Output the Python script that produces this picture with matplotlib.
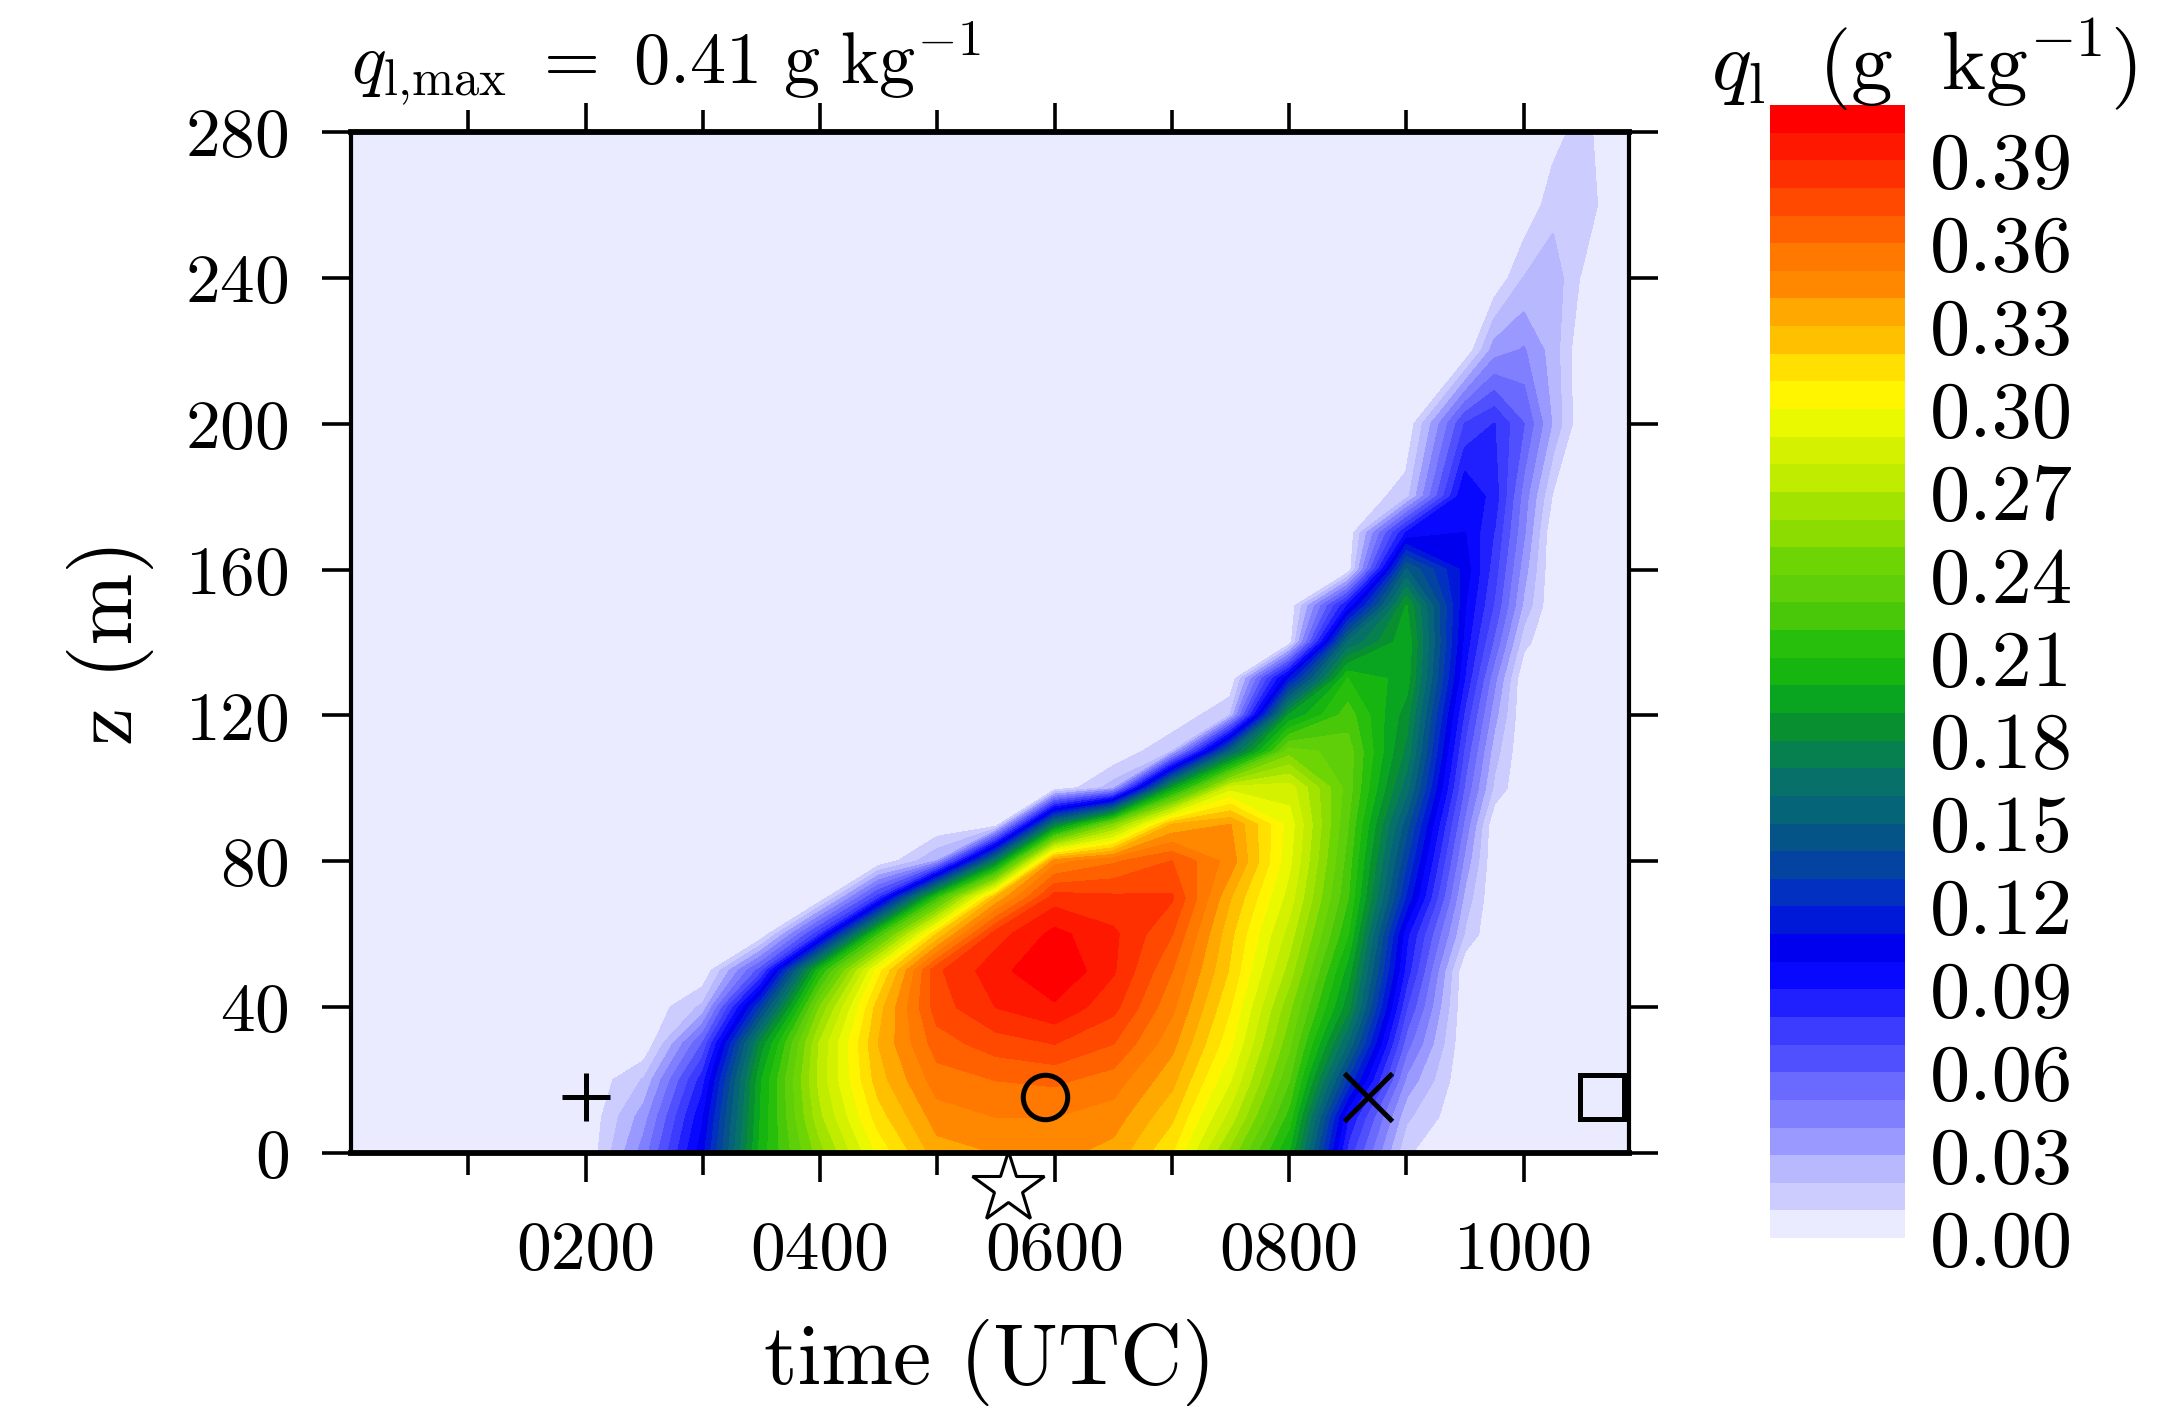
import numpy as np
import matplotlib
matplotlib.use("Agg")
import matplotlib.pyplot as plt

plt.rcParams['font.family'] = 'cmr10'
plt.rcParams['mathtext.fontset'] = 'cm'
plt.rcParams['axes.unicode_minus'] = False
plt.rcParams['axes.formatter.use_mathtext'] = True

# grid of the liquid water table: time (h UTC) and height (m)
times = [0.0, 2.0, 2.5, 3.0, 3.5, 4.0, 4.5, 5.0, 5.5, 6.0, 6.5, 7.0, 7.5,
         8.0, 8.5, 9.0, 9.5, 9.75, 10.0, 10.25, 10.5, 10.75, 10.9]
heights = [0, 10, 20, 30, 40, 50, 60, 70, 80, 90, 100, 110, 120, 130, 140,
           150, 160, 170, 180, 200, 220, 240, 260, 280]

# q_l profiles (g/kg), one per time, bottom to top in the order of heights
ql_0000 = [0, 0, 0, 0, 0, 0, 0, 0, 0, 0, 0, 0, 0, 0, 0, 0, 0, 0, 0, 0, 0, 0, 0, 0]
ql_0200 = [0, 0, 0, 0, 0, 0, 0, 0, 0, 0, 0, 0, 0, 0, 0, 0, 0, 0, 0, 0, 0, 0, 0, 0]
ql_0230 = [0.045, 0.035, 0.021, 0, 0, 0, 0, 0, 0, 0, 0, 0,
           0, 0, 0, 0, 0, 0, 0, 0, 0, 0, 0, 0]
ql_0300 = [0.106, 0.098, 0.085, 0.060, 0.022, 0, 0, 0, 0, 0, 0, 0,
           0, 0, 0, 0, 0, 0, 0, 0, 0, 0, 0, 0]
ql_0330 = [0.204, 0.201, 0.199, 0.183, 0.131, 0.065, 0, 0, 0, 0, 0, 0,
           0, 0, 0, 0, 0, 0, 0, 0, 0, 0, 0, 0]
ql_0400 = [0.255, 0.267, 0.273, 0.271, 0.250, 0.208, 0.077, 0, 0, 0, 0, 0,
           0, 0, 0, 0, 0, 0, 0, 0, 0, 0, 0, 0]
ql_0430 = [0.302, 0.315, 0.325, 0.330, 0.325, 0.305, 0.218, 0.075, 0, 0, 0, 0,
           0, 0, 0, 0, 0, 0, 0, 0, 0, 0, 0, 0]
ql_0500 = [0.335, 0.345, 0.355, 0.365, 0.375, 0.378, 0.320, 0.215, 0.030, 0, 0, 0,
           0, 0, 0, 0, 0, 0, 0, 0, 0, 0, 0, 0]
ql_0530 = [0.340, 0.350, 0.360, 0.375, 0.390, 0.396, 0.385, 0.330, 0.170, 0, 0, 0,
           0, 0, 0, 0, 0, 0, 0, 0, 0, 0, 0, 0]
ql_0600 = [0.343, 0.350, 0.362, 0.380, 0.398, 0.410, 0.403, 0.385, 0.345, 0.170, 0, 0,
           0, 0, 0, 0, 0, 0, 0, 0, 0, 0, 0, 0]
ql_0630 = [0.336, 0.345, 0.355, 0.370, 0.383, 0.391, 0.392, 0.382, 0.358, 0.250, 0.025, 0,
           0, 0, 0, 0, 0, 0, 0, 0, 0, 0, 0, 0]
ql_0700 = [0.310, 0.322, 0.333, 0.343, 0.352, 0.360, 0.370, 0.381, 0.370, 0.330, 0.190, 0.020,
           0, 0, 0, 0, 0, 0, 0, 0, 0, 0, 0, 0]
ql_0730 = [0.255, 0.275, 0.290, 0.302, 0.310, 0.318, 0.322, 0.330, 0.345, 0.340, 0.285, 0.155,
           0.020, 0, 0, 0, 0, 0, 0, 0, 0, 0, 0, 0]
ql_0800 = [0.198, 0.215, 0.230, 0.242, 0.252, 0.265, 0.275, 0.285, 0.292, 0.295, 0.285, 0.245,
           0.190, 0.110, 0.002, 0, 0, 0, 0, 0, 0, 0, 0, 0]
ql_0830 = [0.075, 0.090, 0.127, 0.158, 0.183, 0.195, 0.210, 0.220, 0.225, 0.230, 0.235, 0.235,
           0.225, 0.210, 0.160, 0.090, 0, 0, 0, 0, 0, 0, 0, 0]
ql_0900 = [0.011, 0.022, 0.037, 0.054, 0.070, 0.085, 0.092, 0.117, 0.130, 0.143, 0.163, 0.176,
           0.184, 0.195, 0.198, 0.190, 0.150, 0.090, 0.015, 0, 0, 0, 0, 0]
ql_0930 = [0, 0, 0, 0, 0, 0, 0.018, 0.026, 0.036, 0.046, 0.057, 0.066,
           0.076, 0.088, 0.095, 0.100, 0.105, 0.100, 0.100, 0.070, 0, 0, 0, 0]
ql_0945 = [0, 0, 0, 0, 0, 0, 0, 0, 0, 0, 0.017, 0.024,
           0.033, 0.042, 0.057, 0.068, 0.074, 0.079, 0.085, 0.080, 0.035, 0, 0, 0]
ql_1000 = [0, 0, 0, 0, 0, 0, 0, 0, 0, 0, 0, 0,
           0, 0, 0.013, 0.027, 0.034, 0.041, 0.045, 0.060, 0.041, 0.020, 0, 0]
ql_1015 = [0, 0, 0, 0, 0, 0, 0, 0, 0, 0, 0, 0,
           0, 0, 0, 0, 0, 0, 0.008, 0.028, 0.025, 0.026, 0.016, 0.005]
ql_1030 = [0, 0, 0, 0, 0, 0, 0, 0, 0, 0, 0, 0,
           0, 0, 0, 0, 0, 0, 0, 0, 0, 0.008, 0.020, 0.015]
ql_1045 = [0, 0, 0, 0, 0, 0, 0, 0, 0, 0, 0, 0, 0, 0, 0, 0, 0, 0, 0, 0, 0, 0, 0, 0]
ql_1054 = [0, 0, 0, 0, 0, 0, 0, 0, 0, 0, 0, 0, 0, 0, 0, 0, 0, 0, 0, 0, 0, 0, 0, 0]

profiles = [ql_0000, ql_0200, ql_0230, ql_0300, ql_0330, ql_0400, ql_0430, ql_0500,
            ql_0530, ql_0600, ql_0630, ql_0700, ql_0730, ql_0800, ql_0830, ql_0900,
            ql_0930, ql_0945, ql_1000, ql_1015, ql_1030, ql_1045, ql_1054]

# marker positions (time h, height m)
marker_times = [2.0, 5.92, 8.67, 10.67]
marker_syms = ['+', 'o', 'x', 's']
marker_z = 15.4
star_time = 5.6
star_z = -9.5

x_ticks = [2, 4, 6, 8, 10]
x_labels = ['0200', '0400', '0600', '0800', '1000']
x_minor = [1, 3, 5, 7, 9]
y_ticks = [0, 40, 80, 120, 160, 200, 240, 280]
cbar_ticks = [0.00, 0.03, 0.06, 0.09, 0.12, 0.15, 0.18, 0.21, 0.24, 0.27,
              0.30, 0.33, 0.36, 0.39]

band_colors = ['#EBEBFF', '#CCCCFF', '#B8B8FF', '#9999FF', '#8080FF', '#6A6AFF',
               '#5050FF', '#3C3CFF', '#2020FF', '#0808FF', '#0000EE', '#0018D8',
               '#0230C0', '#0444A0', '#055488', '#066478', '#077068', '#078050',
               '#089030', '#09A520', '#16B510', '#28BE0C', '#48C808', '#5ECF08',
               '#6ED505', '#8CDC02', '#A2E400', '#C0EC00', '#D4F200', '#EAF800',
               '#FFF500', '#FFE000', '#FFC000', '#FFA800', '#FF8800', '#FF7800',
               '#FF6000', '#FF4800', '#FF3000', '#FF1800', '#FF0000']
levels = np.linspace(0.0, 0.41, 42)

ql = np.column_stack(profiles)

fig = plt.figure(figsize=(10.89, 7.06), dpi=200)
ax = fig.add_axes([0.1612, 0.1834, 0.5868, 0.7231])
cax = fig.add_axes([0.8127, 0.1232, 0.0620, 0.8024])
ax.set_facecolor(band_colors[0])

cf = ax.contourf(times, heights, ql, levels=levels, colors=band_colors)
cf.set_edgecolor('face')
cf.set_linewidth(0.5)

for t, s in zip(marker_times, marker_syms):
    if s == 'o' or s == 's':
        ax.plot(t, marker_z, marker=s, ms=16, mfc='none', mec='k', mew=1.8, ls='none')
    else:
        ax.plot(t, marker_z, marker=s, ms=17, color='k', mew=1.8, ls='none')
ax.plot(star_time, star_z, marker='*', ms=27, mfc='white', mec='k', mew=1.1,
        ls='none', clip_on=False, zorder=10)

ax.set_xlim(0, 10.9)
ax.set_ylim(0, 280)
ax.set_xticks(x_ticks)
ax.set_xticklabels(x_labels)
ax.set_xticks(x_minor, minor=True)
ax.set_yticks(y_ticks)
ax.tick_params(which='both', direction='out', top=True, right=True, width=1.3)
ax.tick_params(which='major', length=10.5)
ax.tick_params(which='minor', length=8)
ax.tick_params(axis='x', pad=14, labelsize=25)
ax.tick_params(axis='y', pad=12, labelsize=25)
for side in ['left', 'right']:
    ax.spines[side].set_linewidth(1.5)
for side in ['top', 'bottom']:
    ax.spines[side].set_linewidth(2.1)

ax.set_xlabel('time (UTC)', fontsize=31, va='center')
ax.xaxis.set_label_coords(0.5, -0.205)
ax.set_ylabel('z (m)', fontsize=31, va='center')
ax.yaxis.set_label_coords(-0.188, 0.5)

ax.text(0.0, 1.048, r'$q_{\rm l{,}max}\ =\ 0.41\ {\rm g\ kg^{-1}}$',
        transform=ax.transAxes, fontsize=26, ha='left', va='baseline')

cb = fig.colorbar(cf, cax=cax, ticks=cbar_ticks)
cb.outline.set_visible(False)
cb.ax.set_yticklabels(['%.2f' % v for v in cbar_ticks])
cax.tick_params(length=0, labelsize=29, pad=9)
fig.text(0.7856, 0.936, r'$q_{\rm l}\ \ ({\rm g\ \ kg^{-1}})$', fontsize=30,
         ha='left', va='baseline')

fig.savefig('out.png', dpi=200)
